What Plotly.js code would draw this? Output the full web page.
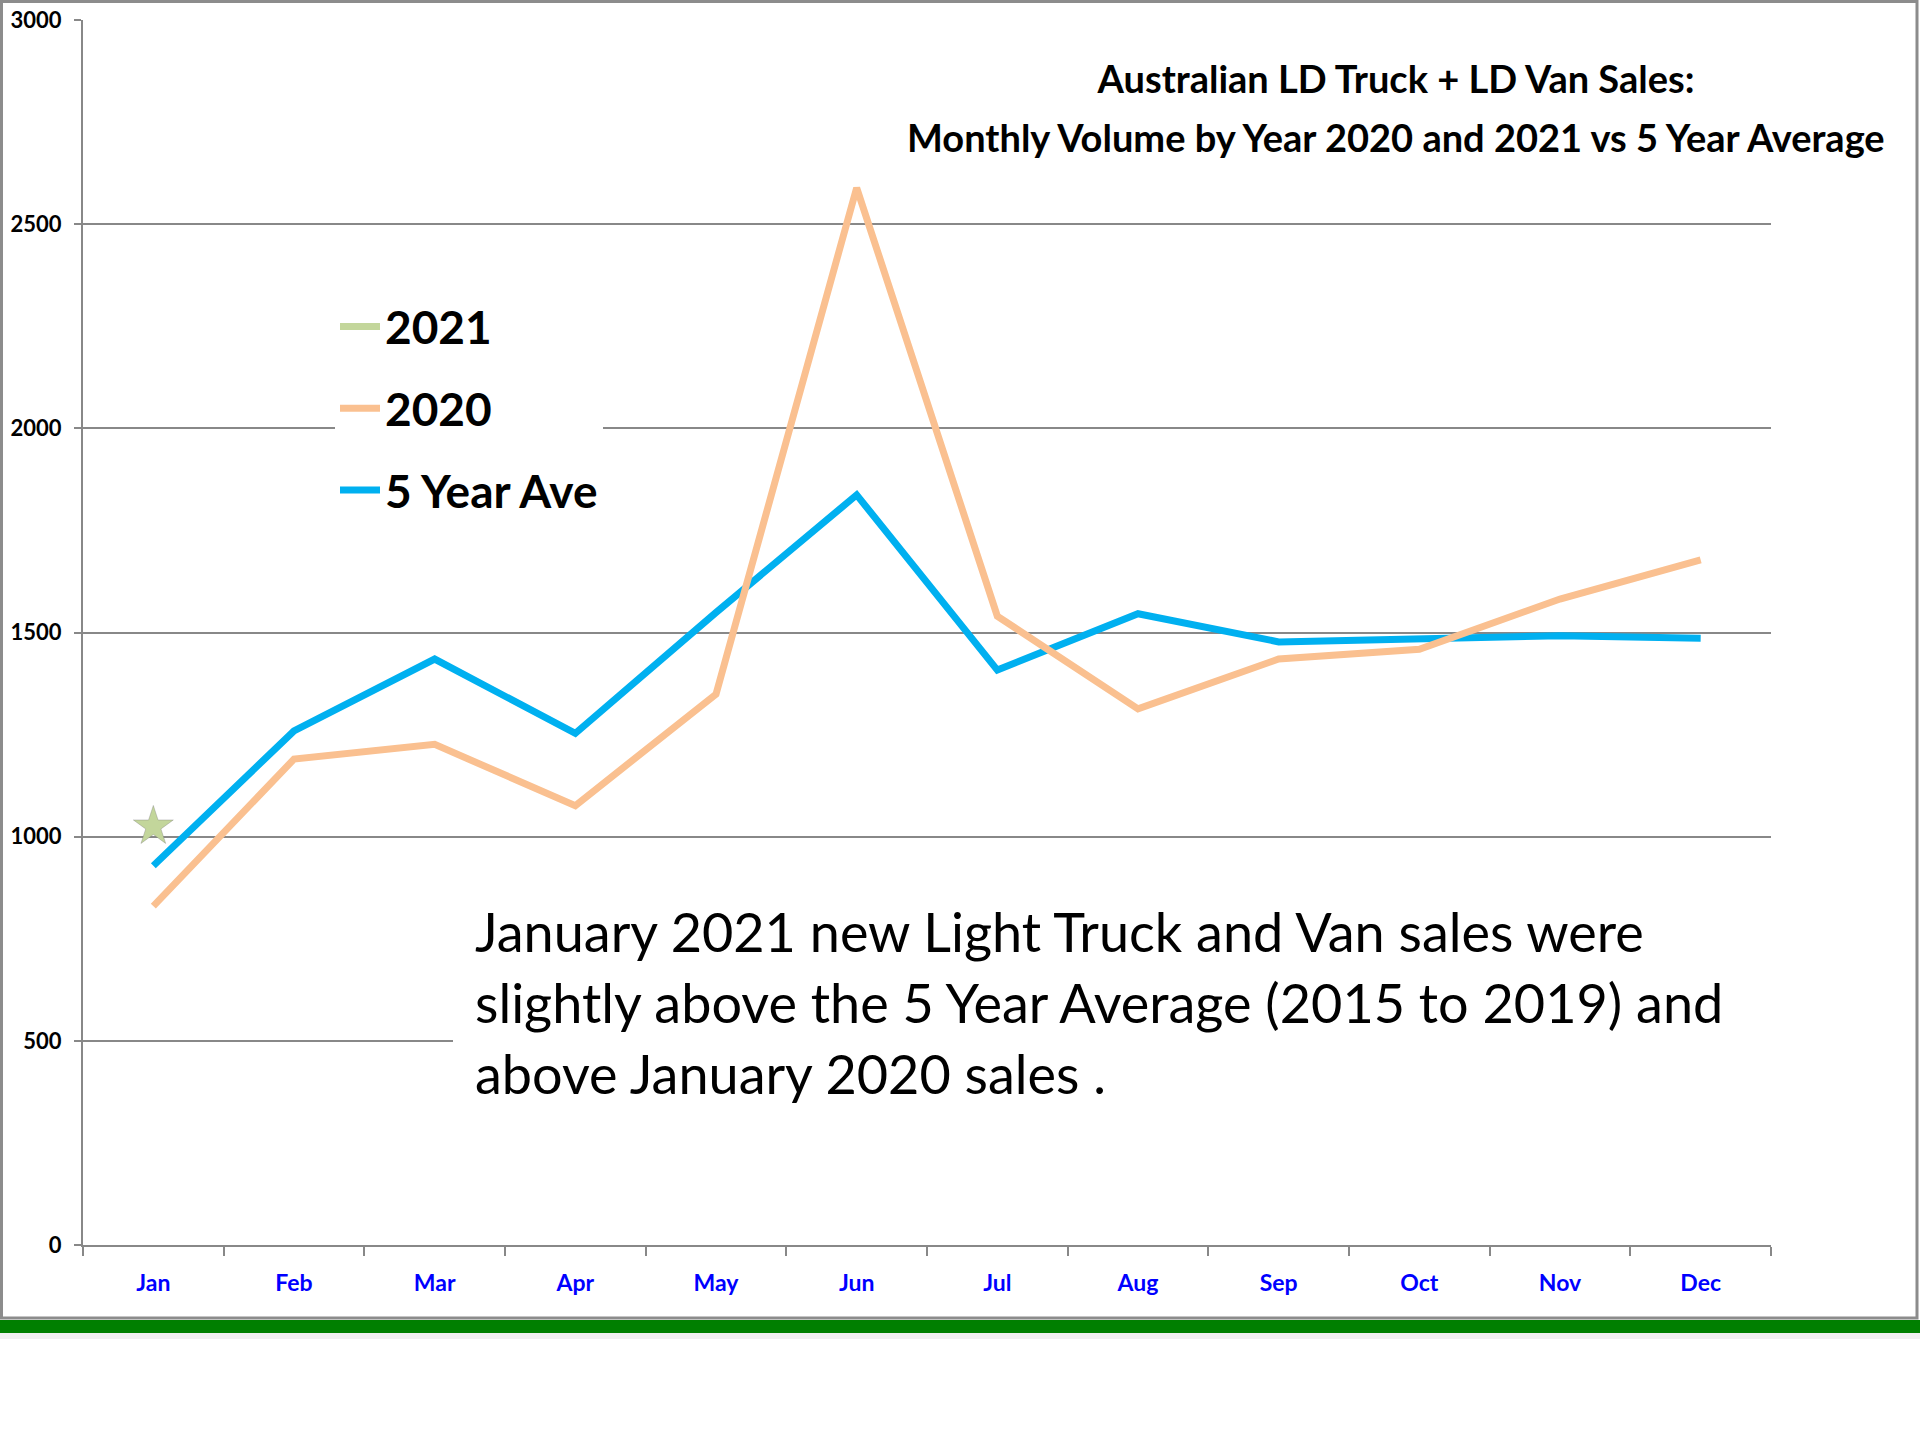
<!DOCTYPE html>
<html>
<head>
<meta charset="utf-8">
<script src="https://cdn.plot.ly/plotly-3.0.1.min.js"></script>
<style>
  html, body { margin: 0; padding: 0; background: #ffffff; }
  #chart { width: 1920px; height: 1440px; }
</style>
</head>
<body>
<div id="chart"></div>
<script>
// ---- Data ----
const months = ["Jan", "Feb", "Mar", "Apr", "May", "Jun", "Jul", "Aug", "Sep", "Oct", "Nov", "Dec"];
const sales2021 = [1025];
const sales2020 = [830, 1190, 1226, 1076, 1349, 2589, 1540, 1313, 1435, 1459, 1582, 1678];
const fiveYearAve = [929, 1259, 1435, 1253, 1549, 1837, 1408, 1546, 1477, 1486, 1492, 1486];
const seriesNames = ["2021", "2020", "5 Year Ave"];
const titleLines = ["Australian LD Truck + LD Van Sales:", "Monthly Volume by Year 2020 and 2021 vs 5 Year Average"];
const noteLines = [
  "January 2021 new Light Truck and Van sales were",
  "slightly above the 5 Year Average (2015 to 2019) and",
  "above January 2020 sales ."
];

// ---- Layout helpers (pixel -> paper) ----
const L = 83, R = 1771, T = 20, B = 1245;
const W = R - L, H = B - T;
const px = v => (v - L) / W;
const py = v => (B - v) / H;

const FONT = "Lato, 'Open Sans', sans-serif";
const C_BLUE = "#00B0F0", C_ORANGE = "#FAC090", C_GREEN = "#C3D69B";

const traces = [
  {
    x: months, y: fiveYearAve, name: seriesNames[2], type: "scatter", mode: "lines",
    line: { color: C_BLUE, width: 7 }, legendgroup: "c", legendrank: 3
  },
  {
    x: months, y: sales2020, name: seriesNames[1], type: "scatter", mode: "lines",
    line: { color: C_ORANGE, width: 7 }, legendgroup: "b", legendrank: 2
  },
  {
    x: months.slice(0, sales2021.length), y: sales2021, name: seriesNames[0], type: "scatter", mode: "lines",
    line: { color: C_GREEN, width: 7 }, legendgroup: "a", legendrank: 1
  },
  {
    x: months.slice(0, sales2021.length), y: sales2021, name: seriesNames[0], type: "scatter", mode: "markers",
    marker: { symbol: "star", size: 30, color: C_GREEN, line: { color: "rgba(120,120,120,0.35)", width: 1 } },
    showlegend: false, hoverinfo: "skip"
  }
];

const annotations = [
  {
    text: "<b>" + titleLines[1] + "</b>", xref: "paper", yref: "paper",
    x: px(1396), y: py(137), xanchor: "center", yanchor: "middle", showarrow: false,
    font: { family: FONT, size: 38, color: "#000000" }
  }
];
const noteY = [931, 1002, 1073];
noteLines.forEach((t, i) => {
  annotations.push({
    text: t, xref: "paper", yref: "paper",
    x: px(473), y: py(noteY[i]), xanchor: "left", yanchor: "middle", showarrow: false,
    align: "left",
    font: { family: FONT, size: 54, color: "#000000" }
  });
});

const layout = {
  width: 1920, height: 1440,
  paper_bgcolor: "#ffffff", plot_bgcolor: "#ffffff",
  margin: { l: L, r: 1920 - R, t: T, b: 1440 - B, pad: 0 },
  title: {
    text: "<b>" + titleLines[0] + "</b>",
    xref: "container", yref: "container", x: 1396 / 1920, y: 1 - 80 / 1440,
    xanchor: "center", yanchor: "middle",
    font: { family: FONT, size: 38, color: "#000000" }
  },
  xaxis: {
    type: "category", range: [-0.5, 11.5], tickson: "boundaries",
    ticks: "outside", ticklen: 9, tickwidth: 2, tickcolor: "#888888",
    showline: true, linecolor: "#888888", linewidth: 2,
    showgrid: false, zeroline: false, ticklabelstandoff: 16,
    tickfont: { family: FONT, size: 23, color: "#0000FF", weight: "bold" }
  },
  yaxis: {
    range: [0, 3000], dtick: 500, tick0: 0,
    ticks: "outside", ticklen: 7, tickwidth: 2, tickcolor: "#888888",
    showline: true, linecolor: "#888888", linewidth: 2,
    showgrid: true, gridcolor: "#888888", gridwidth: 2, zeroline: false,
    ticklabelstandoff: 8,
    tickfont: { family: FONT, size: 22, color: "#000000", weight: "bold" }
  },
  legend: {
    x: px(335), y: py(290), xanchor: "left", yanchor: "top",
    bgcolor: "#ffffff", borderwidth: 0, tracegroupgap: 19,
    itemwidth: 40,
    font: { family: FONT, size: 46, color: "#000000", weight: "bold" }
  },
  showlegend: true,
  annotations: annotations,
  shapes: [
    { type: "rect", xref: "paper", yref: "paper", x0: px(453), x1: px(1805), y0: py(1125), y1: py(880),
      line: { width: 0 }, fillcolor: "#ffffff", layer: "above" },
    { type: "rect", xref: "paper", yref: "paper", x0: px(1.5), x1: px(1917), y0: py(1318), y1: py(1.5),
      line: { color: "#8c8c8c", width: 3 }, fillcolor: "rgba(0,0,0,0)", layer: "above" },
    { type: "rect", xref: "paper", yref: "paper", x0: px(0), x1: px(1920), y0: py(1339), y1: py(1333),
      line: { width: 0 }, fillcolor: "rgba(0,0,0,0.06)", layer: "above" },
    { type: "rect", xref: "paper", yref: "paper", x0: px(0), x1: px(1920), y0: py(1333), y1: py(1320),
      line: { width: 0 }, fillcolor: "#007F00", layer: "above" }
  ]
};

Plotly.newPlot("chart", traces, layout, { displayModeBar: false, staticPlot: true });
</script>
</body>
</html>
